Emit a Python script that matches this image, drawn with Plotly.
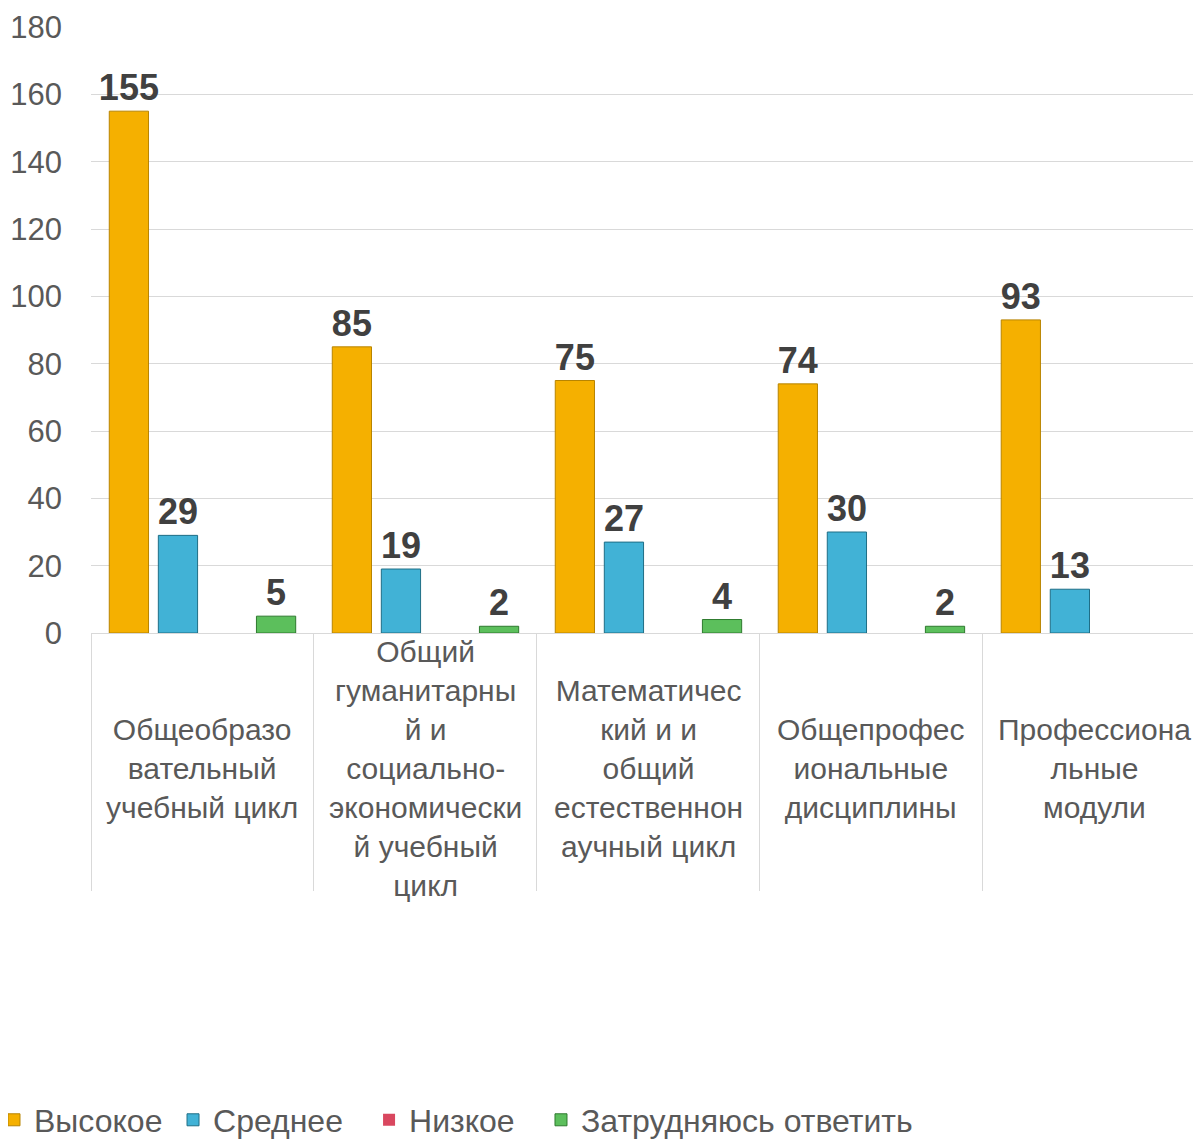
"""Оценка учебных циклов: grouped bar chart"""

import plotly.graph_objects as go

categories = [
    "Общеобразовательный учебный цикл",
    "Общий гуманитарный и социально-экономический учебный цикл",
    "Математический и и общий естественнонаучный цикл",
    "Общепрофессиональные дисциплины",
    "Профессиональные модули",
]
tick_labels = [
    "Общеобразо<br>вательный<br>учебный цикл",
    "Общий<br>гуманитарны<br>й и<br>социально-<br>экономически<br>й учебный<br>цикл",
    "Математичес<br>кий и и<br>общий<br>естественнон<br>аучный цикл",
    "Общепрофес<br>иональные<br>дисциплины",
    "Профессиона<br>льные<br>модули",
]

high = [155, 85, 75, 74, 93]
medium = [29, 19, 27, 30, 13]
low = [0, 0, 0, 0, 0]
unsure = [5, 2, 4, 2, 0]

series = [
    ("Высокое", high, "#F5B000", "#B88400"),
    ("Среднее", medium, "#41B2D6", "#1F6E86"),
    ("Низкое", low, "#D9475F", "#8E2436"),
    ("Затрудняюсь ответить", unsure, "#5CBF5C", "#2E7A2E"),
]

FONT = "Liberation Sans, Arial"
# one legend per entry so the gaps between entries follow the Excel layout
legend_ids = ["legend", "legend2", "legend3", "legend4"]
legend_x = [-0.0874, 0.0739, 0.2505, 0.4054]

fig = go.Figure()
for (name, vals, color, edge), lid in zip(series, legend_ids):
    fig.add_trace(go.Bar(
        name=name,
        x=categories,
        y=vals,
        legend=lid,
        text=[str(v) if v else "" for v in vals],
        textposition="outside",
        constraintext="none",
        cliponaxis=False,
        textfont=dict(family=FONT, size=36, color="#404040", weight="bold"),
        marker=dict(color=color, line=dict(color=edge, width=[1 if v else 0 for v in vals])),
    ))

# category labels, centred vertically below the axis like Excel does
for cat, label in zip(categories, tick_labels):
    fig.add_annotation(
        x=cat, xref="x", y=-0.2228, yref="paper",
        text=label, showarrow=False, yanchor="middle", xanchor="center",
        font=dict(family=FONT, size=30, color="#595959"),
    )

# page body has an 8px margin, so the figure is 8px smaller than the window
fig.update_layout(
    width=1193, height=1132,
    margin=dict(l=83, r=0, t=19, b=507, autoexpand=False),
    paper_bgcolor="white", plot_bgcolor="white",
    barmode="group", bargap=0.12, bargroupgap=0.2,
    font=dict(family=FONT, color="#595959"),
    showlegend=True,
)
for lid, lx in zip(legend_ids, legend_x):
    fig.update_layout({lid: dict(
        orientation="h", x=lx, xanchor="left", y=-0.8036, yanchor="middle",
        font=dict(size=32, color="#595959"), bgcolor="rgba(0,0,0,0)",
    )})

fig.update_xaxes(
    range=[-0.5, 4.478],
    showticklabels=False,
    ticks="outside", tickson="boundaries", ticklen=257,
    tickcolor="#D9D9D9", tickwidth=1,
    showline=True, linecolor="#D9D9D9", linewidth=1,
    showgrid=False,
)
fig.update_yaxes(
    range=[0, 180], dtick=20,
    showgrid=True, gridcolor="#D9D9D9", gridwidth=1,
    zeroline=False, showline=False, automargin=False,
    tickfont=dict(size=31, color="#595959"),
    ticklabelstandoff=28,
)

fig.write_html("out.html")
